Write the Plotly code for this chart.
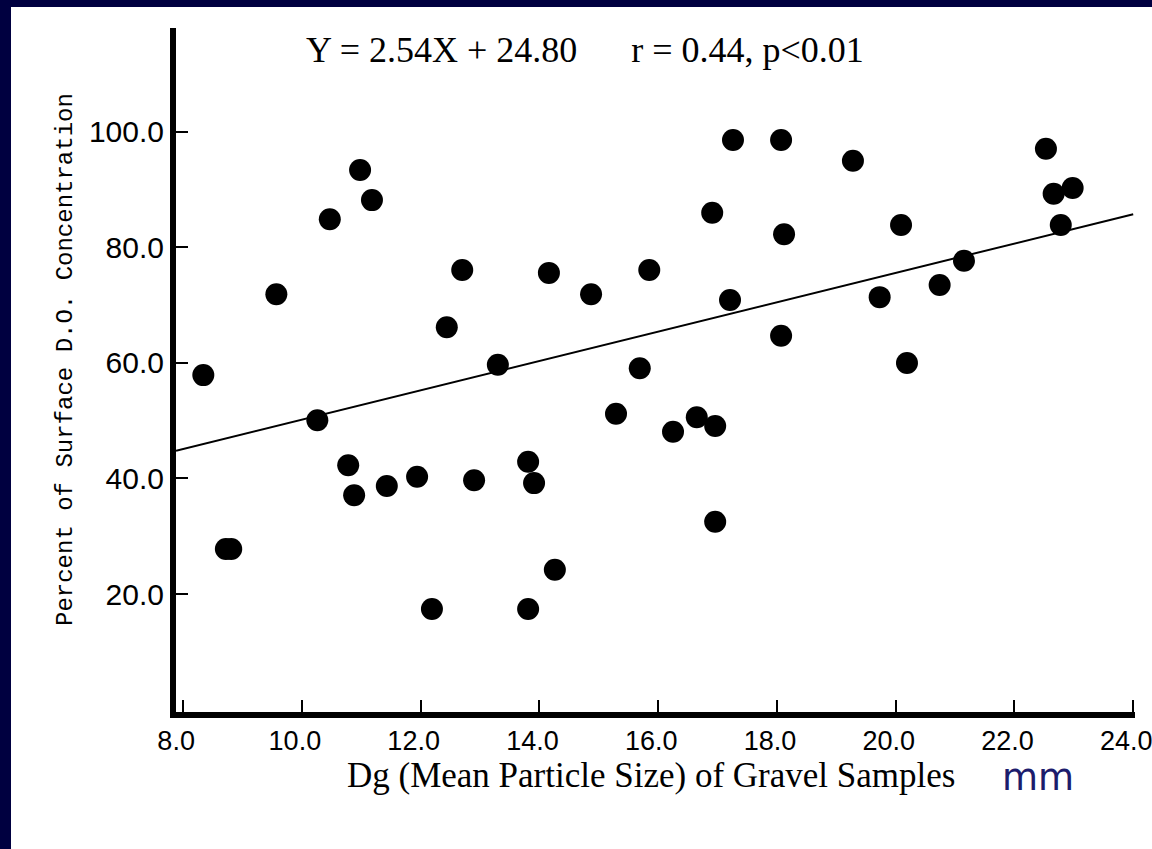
import plotly.graph_objects as go

# Data
dg_mm = [8.34, 8.72, 8.81, 9.57, 10.26, 10.47, 10.78, 10.88, 10.98, 11.18, 11.43, 11.94,
         12.19, 12.44, 12.70, 12.90, 13.30, 13.81, 13.81, 13.91, 14.16, 14.26, 14.87,
         15.29, 15.69, 15.85, 16.25, 16.65, 16.91, 16.96, 16.96, 17.21, 17.26, 18.07,
         18.07, 18.12, 19.28, 19.73, 20.09, 20.19, 20.74, 21.15, 22.53, 22.66, 22.78, 22.98]
do_pct = [57.9, 27.8, 27.8, 71.9, 50.1, 84.9, 42.3, 37.1, 93.4, 88.2, 38.7, 40.3,
          17.4, 66.2, 76.1, 39.7, 59.7, 42.9, 17.4, 39.2, 75.6, 24.2, 71.9,
          51.2, 59.1, 76.1, 48.1, 50.6, 86.0, 49.1, 32.5, 70.9, 98.6, 98.6,
          64.7, 82.3, 95.0, 71.4, 83.9, 60.0, 73.5, 77.7, 97.1, 89.3, 83.9, 90.3]

fit_slope = 2.54
fit_intercept = 24.80
fit_x = [7.88, 24.0]
fit_y = [fit_slope * v + fit_intercept for v in fit_x]

x_ticks = [8, 10, 12, 14, 16, 18, 20, 22, 24]
x_tick_labels = ["8.0", "10.0", "12.0", "14.0", "16.0", "18.0", "20.0", "22.0", "24.0"]
y_ticks = [20, 40, 60, 80, 100]
y_tick_labels = ["20.0", "40.0", "60.0", "80.0", "100.0"]

equation_text = "Y = 2.54X + 24.80&nbsp;&nbsp;&nbsp;&nbsp;&nbsp;&nbsp;r = 0.44, p<0.01"
x_title = "Dg (Mean Particle Size) of Gravel Samples"
y_title = "Percent of Surface D.O. Concentration"
unit_text = "mm"

W, H = 1152, 849
L, R, T, B = 176, 17, 28, 137
pw, ph = W - L - R, H - T - B

fig = go.Figure()
fig.add_trace(go.Scatter(x=fit_x, y=fit_y, mode="lines",
                         line=dict(color="black", width=2), hoverinfo="skip"))
fig.add_trace(go.Scatter(x=dg_mm, y=do_pct, mode="markers",
                         marker=dict(color="black", size=22, line=dict(width=0))))

navy = "#000040"
fig.update_layout(
    width=W, height=H,
    margin=dict(l=L, r=R, t=T, b=B, pad=0, autoexpand=False),
    paper_bgcolor="white", plot_bgcolor="white",
    showlegend=False,
    xaxis=dict(range=[7.88, 24.03], tickvals=x_ticks, ticktext=x_tick_labels,
               automargin=False,
               showgrid=False, zeroline=False, showline=True, linecolor="black",
               linewidth=6, ticks="inside", ticklen=12, tickwidth=2, tickcolor="black",
               ticklabeloverflow="allow", ticklabelshift=-7,
               tickfont=dict(family="Liberation Sans", size=27, color="black")),
    yaxis=dict(range=[-0.43, 118.0], tickvals=y_ticks, ticktext=y_tick_labels,
               automargin=False,
               showgrid=False, zeroline=False, showline=True, linecolor="black",
               linewidth=6, ticks="inside", ticklen=12, tickwidth=2, tickcolor="black",
               tickfont=dict(family="Liberation Sans", size=30, color="black")),
    shapes=[
        dict(type="rect", xref="paper", yref="paper",
             x0=-L / pw - 0.01, x1=(11 - L) / pw, y0=-B / ph - 0.01, y1=(H - B) / ph + 0.01,
             fillcolor=navy, line=dict(width=0), layer="above"),
        dict(type="rect", xref="paper", yref="paper",
             x0=-L / pw - 0.01, x1=1 + R / pw + 0.01, y0=(H - B - 7) / ph, y1=(H - B) / ph + 0.01,
             fillcolor=navy, line=dict(width=0), layer="above"),
    ],
    annotations=[
        dict(text=equation_text, xref="paper", yref="paper",
             x=(585 - L) / pw, y=(H - B - 50) / ph, xanchor="center", yanchor="middle",
             showarrow=False, font=dict(family="Liberation Serif", size=36, color="black")),
        dict(text=x_title, xref="paper", yref="paper",
             x=(651 - L) / pw, y=(H - B - 775) / ph, xanchor="center", yanchor="middle",
             showarrow=False, font=dict(family="Liberation Serif", size=35, color="black")),
        dict(text=unit_text, xref="paper", yref="paper",
             x=(1038 - L) / pw, y=(H - B - 777) / ph, xanchor="center", yanchor="middle",
             showarrow=False, font=dict(family="DejaVu Sans", size=37, color="#1c1c6c")),
        dict(text=y_title, xref="paper", yref="paper", textangle=-90,
             x=(65 - L) / pw, y=(H - B - 360) / ph, xanchor="center", yanchor="middle",
             showarrow=False, font=dict(family="Liberation Mono", size=24, color="black")),
    ],
)

fig.write_html("out.html", config={"displayModeBar": False},
               post_script="document.body.style.margin='0';"
                           "document.body.style.overflow='hidden';")
